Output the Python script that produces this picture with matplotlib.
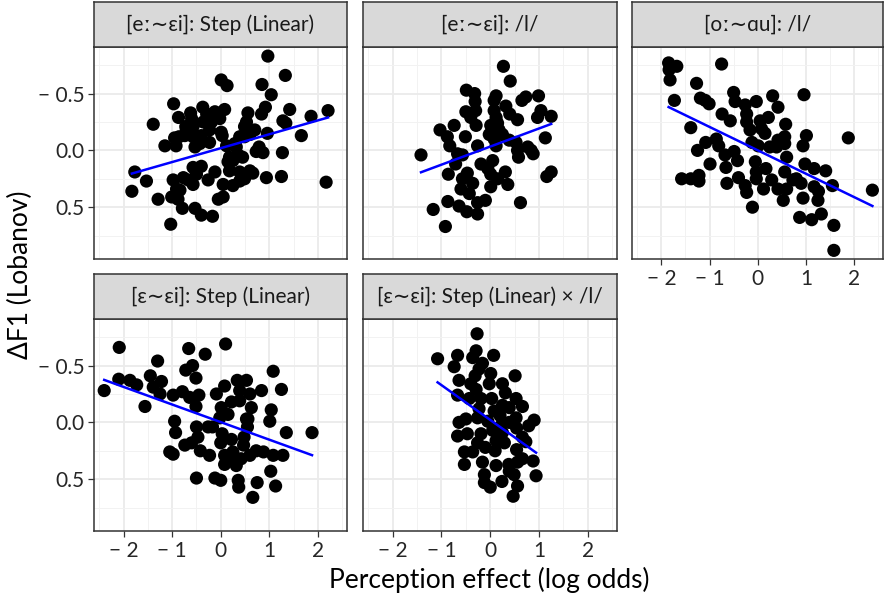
import numpy as np
import matplotlib.pyplot as plt

plt.rcParams['font.family'] = ['Lato', 'DejaVu Sans']

titles = ['[eː∼ɛi]: Step (Linear)', '[eː∼ɛi]: /l/', '[oː∼ɑu]: /l/',
          '[ɛ∼ɛi]: Step (Linear)', '[ɛ∼ɛi]: Step (Linear) × /l/']

# perception effect (log odds) and delta F1 (Lobanov), one pair of lists per panel
x1 = [0.97, 1.33, 0.01, 0.13, 0.85, 1.04, -0.97, -0.37, -0.62, -0.87, -0.60, -0.29, -0.12, 0.08,
      0.56, 0.84, 0.92, 1.42, 1.86, 2.21, -1.39, -0.72, -0.57, -0.36, -0.19, -0.02, 0.53, 0.49,
      1.28, 1.34, 0.01, 0.03, 0.70, 1.66, 0.96, -0.95, -0.86, -0.74, -0.57, -0.40, -0.23, -0.43,
      -0.53, 0.39, 0.49, 0.60, -1.15, -0.92, 0.12, 0.29, 0.73, 0.87, 0.79, 1.27, 0.18, 0.36,
      0.45, -1.77, -1.53, -1.83, -1.29, -0.98, -0.77, -0.57, -0.40, -0.50, -0.26, -0.12, 0.18,
      0.39, 0.60, 0.66, 0.49, 0.39, 0.94, 1.25, 2.17, -0.57, 0.05, 0.25, -1.01, -0.84, -0.88,
      -0.79, -0.05, 0.05, -0.53, -0.40, -0.17, -1.03, 0.25, -0.71, -0.23, -0.47, 0.32, 0.15,
      -0.67, -0.91]
y1 = [-0.83, -0.66, -0.62, -0.57, -0.58, -0.49, -0.41, -0.38, -0.33, -0.29, -0.28, -0.32, -0.34,
      -0.36, -0.33, -0.32, -0.38, -0.36, -0.30, -0.35, -0.23, -0.21, -0.21, -0.25, -0.25, -0.28,
      -0.25, -0.21, -0.26, -0.24, -0.16, -0.13, -0.18, -0.13, -0.15, -0.11, -0.12, -0.13, -0.12,
      -0.13, -0.07, -0.06, -0.03, -0.12, -0.12, -0.14, -0.04, -0.04, -0.04, -0.06, 0.01, 0.02,
      -0.03, 0.02, 0.06, 0.04, 0.06, 0.19, 0.27, 0.36, 0.43, 0.26, 0.24, 0.15, 0.14, 0.21, 0.26,
      0.19, 0.18, 0.19, 0.18, 0.20, 0.25, 0.27, 0.24, 0.23, 0.28, 0.30, 0.30, 0.31, 0.41, 0.35,
      0.43, 0.51, 0.43, 0.41, 0.51, 0.57, 0.58, 0.65, 0.09, -0.18, -0.18, -0.10, -0.03, 0.10,
      0.26, 0.34]

x2 = [0.27, 0.41, -0.49, -0.32, 0.12, 0.08, 0.65, 0.73, 0.99, 0.32, -0.31, -0.30, -0.50, -0.40,
      0.08, 0.12, 0.40, 0.56, 1.04, 0.97, 1.25, -1.03, -0.74, -0.88, -0.51, -0.29, 0.01, 0.15,
      -0.02, 0.12, 0.25, 0.39, 1.13, -0.83, -0.67, -0.57, -0.26, 0.12, 0.56, 0.58, 0.77, 0.88,
      0.84, -1.42, -0.71, -0.19, 0.05, -0.05, -0.86, -0.47, -0.57, -0.36, 0.01, 0.15, 0.31, 0.36,
      0.01, 1.25, 1.16, -0.60, -0.43, -0.26, -0.10, -0.87, -0.64, -0.48, -0.26, -1.17, -0.92,
      0.62, 0.53, 0.18, 0.08]
y2 = [-0.74, -0.61, -0.53, -0.50, -0.48, -0.44, -0.44, -0.47, -0.48, -0.39, -0.43, -0.35, -0.34,
      -0.29, -0.35, -0.29, -0.32, -0.27, -0.35, -0.29, -0.30, -0.18, -0.22, -0.12, -0.12, -0.22,
      -0.22, -0.24, -0.14, -0.13, -0.14, -0.09, -0.11, -0.04, 0.03, 0.04, -0.04, -0.04, 0.00,
      0.06, -0.03, 0.03, 0.00, 0.04, 0.12, 0.12, 0.09, 0.16, 0.21, 0.20, 0.25, 0.29, 0.21, 0.25,
      0.19, 0.30, 0.32, 0.19, 0.23, 0.34, 0.38, 0.46, 0.44, 0.45, 0.49, 0.54, 0.56, 0.52, 0.67,
      0.46, -0.07, -0.18, -0.10]

x3 = [-1.85, -1.68, -1.84, -1.82, -0.75, -1.27, -1.73, -1.19, -1.09, -1.01, -0.50, -0.47, -0.26,
      -0.03, 0.31, 0.42, 0.96, -0.74, -0.57, -0.23, -0.23, 0.05, 0.22, 0.58, -1.39, -1.08, -1.25,
      -0.86, -0.81, -0.68, -0.49, -0.42, -0.16, 0.15, -0.12, 0.01, 0.25, 0.42, 0.56, 0.56, 1.01,
      0.94, 1.88, 0.60, -0.99, -0.66, -0.05, 0.17, -0.03, 0.56, 0.98, 1.17, 1.41, -1.58, -1.39,
      -1.22, -1.22, -0.64, -0.40, -0.26, -0.23, -0.03, 0.12, 0.29, 0.42, 0.60, 0.73, 0.90, 1.17,
      1.26, 1.55, 0.53, 0.94, 1.25, -0.11, 0.87, 1.12, 1.32, 1.58, 1.58, 2.38, 0.08, 0.39, 0.80]
y3 = [-0.77, -0.74, -0.71, -0.62, -0.76, -0.59, -0.44, -0.46, -0.44, -0.41, -0.51, -0.43, -0.40,
      -0.43, -0.48, -0.38, -0.49, -0.32, -0.26, -0.32, -0.25, -0.26, -0.29, -0.23, -0.20, -0.07,
      0.00, -0.10, -0.04, 0.04, 0.01, 0.09, -0.18, -0.15, -0.07, -0.04, -0.03, -0.09, -0.12,
      -0.06, -0.13, -0.04, -0.11, 0.06, 0.12, 0.15, 0.10, 0.16, 0.19, 0.19, 0.12, 0.16, 0.18,
      0.25, 0.25, 0.22, 0.27, 0.29, 0.24, 0.31, 0.37, 0.25, 0.34, 0.26, 0.34, 0.34, 0.26, 0.29,
      0.32, 0.36, 0.31, 0.44, 0.42, 0.44, 0.50, 0.59, 0.61, 0.56, 0.66, 0.88, 0.35, -0.19, -0.03,
      0.25]

x4 = [-2.09, -0.66, -0.32, 0.10, -1.30, -0.58, -0.72, -0.51, 1.08, -2.40, -2.10, -1.87, -1.73,
      -1.45, -1.22, -1.39, -1.25, -0.98, -0.79, -0.64, -0.45, -1.56, -0.51, -0.09, 0.08, 0.34,
      0.53, 0.39, 0.60, 0.84, 1.25, 0.01, 0.15, 0.22, 0.39, 0.63, 1.04, 1.01, -0.95, -0.93, -0.50,
      -0.26, -0.17, -0.02, 0.56, 0.55, 0.03, 0.22, 0.48, 0.47, 1.35, 1.88, -0.47, -0.60, -0.74,
      0.00, -1.05, -0.98, -0.42, -0.23, 0.08, 0.08, 0.25, 0.42, 0.60, 0.73, 0.88, 1.08, 1.28,
      1.03, -0.50, -0.12, 0.00, 0.36, 0.37, 0.75, 1.13, 0.66, 0.25, 0.32, 0.53]
y4 = [-0.66, -0.65, -0.60, -0.69, -0.54, -0.50, -0.46, -0.39, -0.45, -0.28, -0.38, -0.37, -0.33,
      -0.41, -0.36, -0.31, -0.25, -0.24, -0.27, -0.22, -0.24, -0.14, -0.14, -0.25, -0.32, -0.37,
      -0.37, -0.28, -0.25, -0.28, -0.29, -0.13, -0.07, -0.18, -0.19, -0.13, -0.11, -0.01, -0.01,
      0.09, 0.04, 0.04, 0.04, -0.04, -0.03, 0.04, 0.10, 0.15, 0.13, 0.20, 0.09, 0.09, 0.13, 0.18,
      0.20, 0.18, 0.26, 0.28, 0.25, 0.29, 0.29, 0.37, 0.32, 0.32, 0.29, 0.25, 0.26, 0.29, 0.29,
      0.43, 0.49, 0.49, 0.51, 0.51, 0.57, 0.53, 0.56, 0.66, 0.26, 0.38, -0.03]

x5 = [-0.27, -1.08, -0.67, -0.36, -0.29, 0.07, -0.74, -0.16, -0.23, -0.31, 0.01, 0.51, -0.64,
      -0.40, -0.02, 0.25, -0.29, -0.67, -0.43, -0.19, 0.03, 0.31, 0.53, 0.66, 0.25, -0.23, 0.08,
      0.20, 0.39, -0.64, -0.50, -0.26, -0.05, 0.22, 0.53, 0.54, 0.79, 0.90, -0.67, -0.47, -0.19,
      0.05, 0.12, 0.29, 0.66, 0.73, -0.53, -0.36, -0.10, 0.10, 0.54, 0.66, 0.88, -0.53, -0.16,
      0.12, 0.38, 0.56, 0.94, -0.12, 0.24, 0.49, -0.12, 0.00, 0.56, 0.47, 0.39, -0.26, 0.25, 0.39]
y5 = [-0.78, -0.56, -0.59, -0.57, -0.63, -0.59, -0.49, -0.52, -0.47, -0.41, -0.43, -0.41, -0.37,
      -0.34, -0.34, -0.34, -0.29, -0.24, -0.21, -0.21, -0.21, -0.26, -0.21, -0.14, -0.15, -0.12,
      -0.10, -0.06, -0.13, 0.00, -0.03, -0.04, -0.01, 0.03, -0.04, 0.05, 0.03, -0.02, 0.12, 0.10,
      0.10, 0.07, 0.16, 0.18, 0.13, 0.17, 0.26, 0.26, 0.22, 0.25, 0.24, 0.32, 0.34, 0.37, 0.35,
      0.38, 0.37, 0.35, 0.47, 0.46, 0.52, 0.46, 0.53, 0.57, 0.56, 0.65, 0.43, 0.18, 0.09, 0.00]

xs = [x1, x2, x3, x4, x5]
ys = [y1, y2, y3, y4, y5]

W, H = 884, 600
fig = plt.figure(figsize=(W / 100, H / 100), dpi=100)

def box(l, t, r, b):
    return [l / W, 1 - b / H, (r - l) / W, (b - t) / H]

cols = [(94, 347), (363, 617), (632, 883)]
rows = [(47, 259), (319, 531)]
strips = [(2, 47), (274, 319)]
edge = '#333333'

for i in range(5):
    r, c = divmod(i, 3)
    l, rt = cols[c]
    ax = fig.add_axes(box(l, rows[r][0], rt, rows[r][1]))
    ax.set_xlim(-2.61, 2.6)
    ax.set_ylim(0.956, -0.91)
    ax.set_xticks([-2, -1, 0, 1, 2])
    ax.set_xticks([-2.5, -1.5, -0.5, 0.5, 1.5, 2.5], minor=True)
    ax.set_yticks([-0.5, 0.0, 0.5])
    ax.set_yticks([-0.75, -0.25, 0.25, 0.75], minor=True)
    ax.grid(True, which='major', color='#EBEBEB', lw=1.3)
    ax.grid(True, which='minor', color='#F2F2F2', lw=0.7)
    ax.set_axisbelow(True)
    for s in ax.spines.values():
        s.set_color(edge)
        s.set_linewidth(1.1)
    ax.tick_params(which='minor', length=0)
    ax.tick_params(which='major', length=4, color=edge, width=0.9,
                   labelsize=15, labelcolor='#262626', pad=3)
    if c != 0:
        ax.tick_params(axis='y', left=False, labelleft=False)
    else:
        ax.set_yticklabels(['− 0.5', '0.0', '0.5'])
    if r == 0 and c != 2:
        ax.tick_params(axis='x', bottom=False, labelbottom=False)
    else:
        ax.set_xticklabels(['− 2', '− 1', '0', '1', '2'])

    x = np.array(xs[i])
    y = np.array(ys[i])
    ax.scatter(x, y, s=90, color='black', edgecolors='none', zorder=3)
    k, b0 = np.polyfit(x, y, 1)
    xx = np.array([x.min(), x.max()])
    ax.plot(xx, k * xx + b0, color='#0000FF', lw=1.8, zorder=4)

    sa = fig.add_axes(box(l, strips[r][0], rt, strips[r][1]))
    sa.set_facecolor('#D9D9D9')
    sa.set_xticks([])
    sa.set_yticks([])
    for s in sa.spines.values():
        s.set_color(edge)
        s.set_linewidth(1.1)
    sa.text(0.5, 0.5, titles[i], ha='center', va='center', fontsize=15,
            color='#1A1A1A', transform=sa.transAxes)

fig.text(489 / W, 1 - 580 / H, 'Perception effect (log odds)', ha='center', va='center',
         fontsize=19)
fig.text(20 / W, 1 - 275 / H, 'ΔF1 (Lobanov)', ha='center', va='center',
         rotation=90, fontsize=19)

fig.savefig('out.png', dpi=100)
